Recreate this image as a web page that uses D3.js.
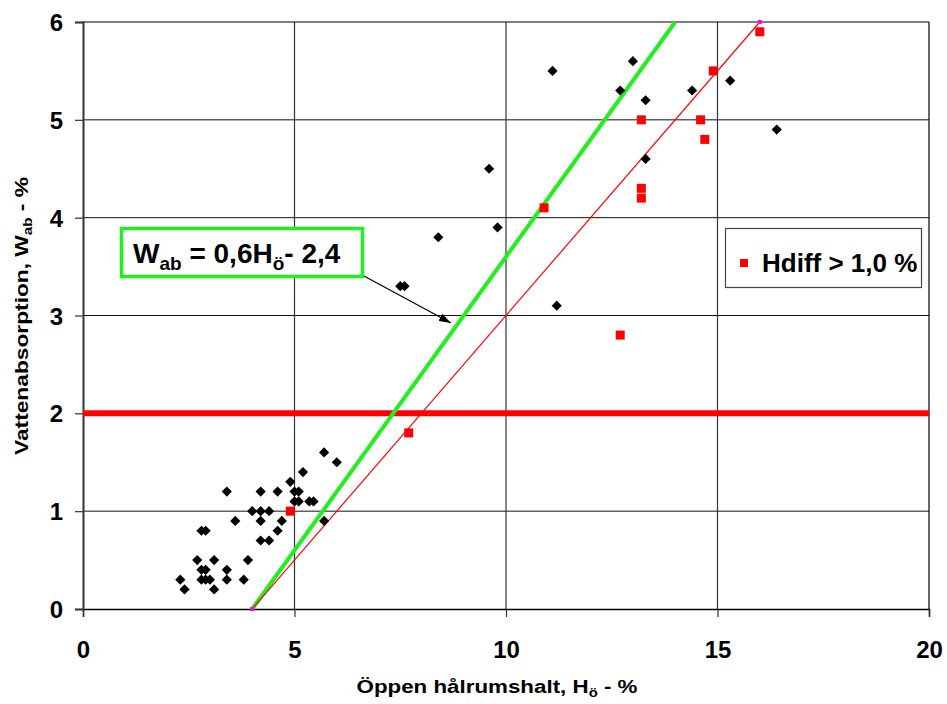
<!DOCTYPE html>
<html>
<head>
<meta charset="utf-8">
<script src="https://cdn.jsdelivr.net/npm/d3@7"></script>
<style>
  html, body { margin: 0; padding: 0; background: #fff; }
  svg { display: block; }
  text { font-family: "Liberation Sans", Arial, sans-serif; font-weight: bold; fill: #000; }
</style>
</head>
<body>
<svg id="chart" width="947" height="704"></svg>
<script>
// Öppen hålrumshalt (H_ö, %) and vattenabsorption (W_ab, %) per sample
const blackH = [2.3, 2.4, 2.7, 2.8, 2.9, 2.8, 2.9, 2.8, 2.9, 3.0, 3.1, 3.1, 3.4, 3.4, 3.4, 3.6, 3.8, 3.9,
                4.0, 4.2, 4.2, 4.2, 4.2, 4.4, 4.4, 4.6, 4.6, 4.7, 4.9, 5.0, 5.1, 5.0, 5.1, 5.35, 5.45,
                5.2, 5.7, 6.0, 5.7,
                7.5, 7.6, 8.4, 9.6, 9.8, 11.1, 11.2, 12.7, 13.0, 13.3, 13.3, 14.4, 15.3, 16.4];
const blackW = [0.3, 0.2, 0.5, 0.8, 0.8, 0.4, 0.4, 0.3, 0.3, 0.3, 0.5, 0.2, 1.2, 0.4, 0.3, 0.9, 0.3, 0.5,
                1.0, 1.2, 1.0, 0.9, 0.7, 1.0, 0.7, 1.2, 0.8, 0.9, 1.3, 1.2, 1.2, 1.1, 1.1, 1.1, 1.1,
                1.4, 1.6, 1.5, 0.9,
                3.3, 3.3, 3.8, 4.5, 3.9, 5.5, 3.1, 5.3, 5.6, 5.2, 4.6, 5.3, 5.4, 4.9];

// Samples with Hdiff > 1,0 %
const redH = [4.9, 7.7, 10.9, 12.7, 13.2, 13.2, 13.2, 14.6, 14.7, 14.9, 16.0];
const redW = [1.0, 1.8, 4.1, 2.8, 5.0, 4.3, 4.2, 5.0, 4.8, 5.5, 5.9];

// Relations drawn as lines: W = 0,6H - 2,4 (green) and W = 0,5H - 2 (red)
const greenLineH = [4, 14];
const greenLineW = [0, 6];
const redLineH = [4, 16];
const redLineW = [0, 6];
const limitW = 2;

const xTicks = [0, 5, 10, 15, 20];
const yTicks = [0, 1, 2, 3, 4, 5, 6];

const svg = d3.select("#chart");
const plotLeft = 83, plotRight = 929, plotTop = 22, plotBottom = 609;

const x = d3.scaleLinear().domain([0, 20]).range([plotLeft, plotRight]);
const y = d3.scaleLinear().domain([0, 6]).range([plotBottom, plotTop]);

// Grid
const grid = svg.append("g");
grid.selectAll("line.h").data(yTicks.filter(d => d > 0 && d < 6)).join("line")
  .attr("x1", plotLeft).attr("x2", plotRight)
  .attr("y1", d => y(d)).attr("y2", d => y(d))
  .attr("stroke", "#111").attr("stroke-width", 1);
grid.selectAll("line.v").data(xTicks.filter(d => d > 0 && d < 20)).join("line")
  .attr("y1", plotTop).attr("y2", plotBottom)
  .attr("x1", d => x(d)).attr("x2", d => x(d))
  .attr("stroke", "#333").attr("stroke-width", 1.2);
// Top and right frame
svg.append("line").attr("x1", plotLeft).attr("x2", plotRight).attr("y1", plotTop).attr("y2", plotTop)
  .attr("stroke", "#000").attr("stroke-width", 1.2);
svg.append("line").attr("x1", plotRight).attr("x2", plotRight).attr("y1", plotTop).attr("y2", plotBottom)
  .attr("stroke", "#000").attr("stroke-width", 1.2);

// Axes
const xAxis = d3.axisBottom(x).tickValues(xTicks).tickSize(8).tickFormat(d3.format("d"));
const gx = svg.append("g").attr("transform", `translate(0,${plotBottom})`).call(xAxis);
gx.select(".domain").attr("stroke", "#000").attr("stroke-width", 1.5);
gx.selectAll(".tick line").attr("stroke", "#333").attr("stroke-width", 1.2);
gx.selectAll(".tick text").attr("font-size", 24).attr("dy", null).attr("y", 49)
  .style("font-family", "'Liberation Sans', Arial, sans-serif").style("font-weight", "bold");

const yAxis = d3.axisLeft(y).tickValues(yTicks).tickSize(8).tickFormat(d3.format("d"));
const gy = svg.append("g").attr("transform", `translate(${plotLeft},0)`).call(yAxis);
gy.select(".domain").attr("stroke", "#333").attr("stroke-width", 2);
gy.selectAll(".tick line").attr("stroke", "#333").attr("stroke-width", 1.2);
gy.selectAll(".tick text").attr("font-size", 24).attr("x", -20).attr("dy", "0.36em")
  .style("font-family", "'Liberation Sans', Arial, sans-serif").style("font-weight", "bold");

// Limit line at W = 2
svg.append("line")
  .attr("x1", x(0)).attr("x2", x(20)).attr("y1", y(limitW)).attr("y2", y(limitW))
  .attr("stroke", "#ff0000").attr("stroke-width", 6);

// Relation lines
const line = d3.line().x(d => x(d[0])).y(d => y(d[1]));
svg.append("path").datum(d3.zip(greenLineH, greenLineW))
  .attr("d", line).attr("fill", "none").attr("stroke", "#22ee22").attr("stroke-width", 4);
svg.append("path").datum(d3.zip(redLineH, redLineW))
  .attr("d", line).attr("fill", "none").attr("stroke", "#ff0000").attr("stroke-width", 1.2);
svg.selectAll("rect.end").data(d3.zip(redLineH, redLineW)).join("rect")
  .attr("x", d => x(d[0]) - 2).attr("y", d => y(d[1]) - 2)
  .attr("width", 4).attr("height", 4).attr("fill", "#ff00ff");

// Points
const diamond = d3.symbol().type(d3.symbolSquare).size(52);
svg.append("g").selectAll("path").data(d3.zip(blackH, blackW)).join("path")
  .attr("d", diamond)
  .attr("transform", d => `translate(${x(d[0])},${y(d[1])}) rotate(45)`)
  .attr("fill", "#000");
svg.append("g").selectAll("rect").data(d3.zip(redH, redW)).join("rect")
  .attr("x", d => x(d[0]) - 4.5).attr("y", d => y(d[1]) - 4.5)
  .attr("width", 9).attr("height", 9).attr("fill", "#ff0000");

// Annotation box with the fitted relation
svg.append("defs").append("marker")
  .attr("id", "arrow").attr("viewBox", "0 0 12 8").attr("refX", 12).attr("refY", 4)
  .attr("markerWidth", 12).attr("markerHeight", 8).attr("markerUnits", "userSpaceOnUse")
  .attr("orient", "auto")
  .append("path").attr("d", "M0,0 L12,4 L0,8 Z").attr("fill", "#000");
svg.append("line").attr("x1", 364).attr("y1", 276).attr("x2", 451).attr("y2", 323)
  .attr("stroke", "#000").attr("stroke-width", 1.2).attr("marker-end", "url(#arrow)");
svg.append("rect").attr("x", 121.5).attr("y", 228.5).attr("width", 241).attr("height", 48)
  .attr("fill", "#fff").attr("stroke", "#22ee22").attr("stroke-width", 3.5);
const eq = svg.append("text").attr("x", 133).attr("y", 263).attr("font-size", 28);
eq.append("tspan").text("W");
eq.append("tspan").attr("font-size", 19).attr("dy", 7).text("ab");
eq.append("tspan").attr("dy", -7).text(" = 0,6H");
eq.append("tspan").attr("font-size", 19).attr("dy", 7).text("ö");
eq.append("tspan").attr("dy", -7).text("- 2,4");

// Legend
svg.append("rect").attr("x", 725.5).attr("y", 228.5).attr("width", 196).attr("height", 59)
  .attr("fill", "#fff").attr("stroke", "#444").attr("stroke-width", 1.2);
svg.append("rect").attr("x", 740).attr("y", 259).attr("width", 8).attr("height", 8).attr("fill", "#ff0000");
svg.append("text").attr("x", 762).attr("y", 272).attr("font-size", 26).text("Hdiff > 1,0 %");

// Axis titles
const xt = svg.append("text").attr("x", 497).attr("y", 693).attr("text-anchor", "middle")
  .attr("font-size", 18).attr("textLength", 281).attr("lengthAdjust", "spacingAndGlyphs");
xt.append("tspan").text("Öppen hålrumshalt, H");
xt.append("tspan").attr("font-size", 12).attr("dy", 4).text("ö");
xt.append("tspan").attr("dy", -4).text(" - %");

const yt = svg.append("text").attr("transform", "translate(28,316) rotate(-90)")
  .attr("text-anchor", "middle").attr("font-size", 18)
  .attr("textLength", 278).attr("lengthAdjust", "spacingAndGlyphs");
yt.append("tspan").text("Vattenabsorption, W");
yt.append("tspan").attr("font-size", 12).attr("dy", 4).text("ab");
yt.append("tspan").attr("dy", -4).text(" - %");
</script>
</body>
</html>
